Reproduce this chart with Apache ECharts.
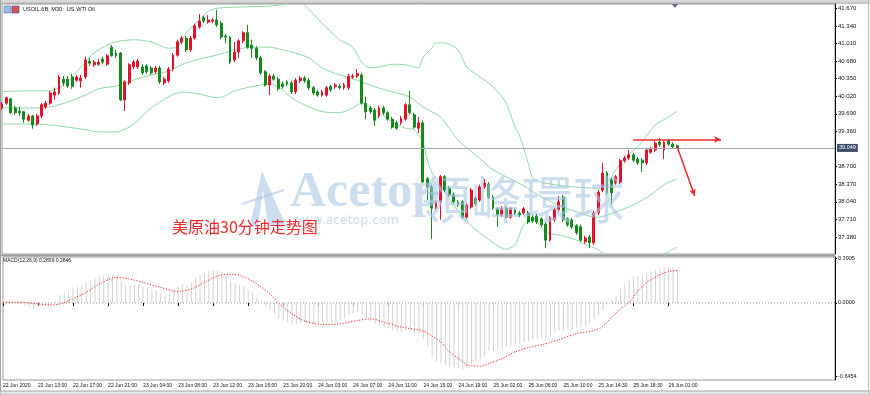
<!DOCTYPE html>
<html><head><meta charset="utf-8">
<script src="https://cdn.jsdelivr.net/npm/echarts@6/dist/echarts.min.js"></script>
<style>html,body{margin:0;padding:0;background:#fff}#c{width:870px;height:395px}</style>
</head><body><div id="c"></div>
<script>
// ---- data ----
const tickLabels = ['22 Jun 2020','22 Jun 13:00','22 Jun 17:00','22 Jun 21:00','23 Jun 04:00','23 Jun 08:00','23 Jun 12:00','23 Jun 16:00','23 Jun 20:00','24 Jun 03:00','24 Jun 07:00','24 Jun 11:00','24 Jun 15:00','24 Jun 19:00','25 Jun 02:00','25 Jun 06:00','25 Jun 10:00','25 Jun 14:30','25 Jun 18:30','26 Jun 01:00'];
const slotCount = 191; // bars incl. empty right shift area
const priceTicks = [41.670,41.340,41.010,40.680,40.350,40.020,39.690,39.360,38.700,38.370,38.040,37.710,37.380];
const macdTicks = [0.3905, 0, -0.6454];
const lastPrice = 39.049;
const macdMain = 0.2859, macdSig = 0.2846;
// [open, close, low, high]
const ohlc = [
[39.80,39.87,39.76,39.91],[39.89,39.99,39.86,40.01],[39.97,39.71,39.69,39.99],[39.80,39.71,39.67,39.84],[39.74,39.71,39.65,39.82],
[39.73,39.59,39.52,39.74],[39.57,39.65,39.54,39.69],[39.65,39.48,39.41,39.67],[39.50,39.65,39.46,39.69],[39.65,39.86,39.61,39.89],
[39.82,39.89,39.78,39.93],[39.89,40.08,39.86,40.12],[40.04,40.10,39.95,40.18],[40.08,40.38,40.04,40.42],[40.34,40.27,40.21,40.40],
[40.34,40.21,40.18,40.40],[40.38,40.20,40.16,40.44],[40.32,40.38,40.29,40.42],[40.31,40.36,40.18,40.42],[40.38,40.70,40.34,40.76],
[40.68,40.64,40.59,40.74],[40.61,40.66,40.57,40.70],[40.62,40.66,40.59,40.72],[40.72,40.66,40.62,40.76],[40.62,40.78,40.59,40.81],
[40.94,40.78,40.76,40.98],[40.83,40.78,40.74,40.89],[40.83,39.95,39.93,40.85],[39.95,40.29,39.74,40.32],[40.27,40.61,40.23,40.64],
[40.57,40.66,40.53,40.70],[40.57,40.68,40.53,40.72],[40.57,40.46,40.42,40.62],[40.59,40.48,40.44,40.62],[40.55,40.46,40.42,40.59],
[40.48,40.55,40.44,40.59],[40.55,40.29,40.25,40.59],[40.27,40.34,40.23,40.38],[40.31,40.53,40.27,40.57],[40.53,40.79,40.49,40.83],
[40.79,41.04,40.76,41.08],[41.04,41.11,41.00,41.15],[41.11,40.89,40.85,41.15],[40.89,41.11,40.85,41.15],[41.11,41.34,41.08,41.38],
[41.32,41.43,41.28,41.56],[41.49,41.43,41.39,41.53],[41.41,41.45,41.38,41.54],[41.43,41.45,41.39,41.49],[41.45,41.36,41.32,41.64],
[41.39,41.13,41.09,41.43],[41.15,41.13,41.02,41.19],[41.13,40.66,40.62,41.15],[40.70,40.85,40.66,41.04],[40.85,41.06,40.74,41.09],
[41.06,41.21,41.02,41.24],[41.21,40.94,40.91,41.36],[40.98,40.92,40.74,41.08],[40.92,40.74,40.70,40.96],[40.74,40.46,40.42,40.78],
[40.48,40.23,40.20,40.51],[40.23,40.40,40.04,40.44],[40.40,40.34,40.31,40.44],[40.34,40.16,40.12,40.38],[40.25,40.20,40.16,40.29],
[40.29,40.25,40.21,40.32],[40.27,40.10,40.06,40.31],[40.10,40.32,40.06,40.36],[40.31,40.36,40.27,40.40],[40.36,40.31,40.27,40.40],
[40.32,40.18,40.14,40.36],[40.18,40.08,40.04,40.21],[40.10,40.04,40.01,40.14],[40.04,40.10,40.01,40.14],[40.04,40.18,40.01,40.21],
[40.20,40.14,40.10,40.23],[40.20,40.23,40.16,40.27],[40.21,40.18,40.14,40.25],[40.18,40.23,40.14,40.27],[40.18,40.40,40.14,40.44],
[40.38,40.40,40.34,40.44],[40.40,40.44,40.36,40.53],[40.42,39.89,39.86,40.46],[39.89,39.73,39.59,40.01],[39.80,39.73,39.69,39.84],
[39.76,39.57,39.46,39.80],[39.65,39.80,39.61,39.84],[39.80,39.71,39.67,39.84],[39.71,39.59,39.56,39.74],[39.59,39.44,39.41,39.63],
[39.52,39.42,39.39,39.56],[39.52,39.61,39.48,39.65],[39.59,39.86,39.56,39.89],[39.86,39.71,39.67,40.12],[39.67,39.44,39.41,39.71],
[39.42,39.52,39.33,39.63],[39.52,38.41,38.39,39.56],[38.47,38.32,38.07,38.51],[38.32,37.92,37.34,38.36],[37.92,38.04,37.89,38.07],
[38.04,38.51,37.70,38.54],[38.51,38.26,38.22,38.54],[38.30,38.17,38.13,38.34],[38.17,38.04,38.00,38.21],[38.04,37.98,37.94,38.07],
[38.04,37.75,37.72,38.07],[37.75,37.98,37.72,38.02],[37.94,38.26,37.91,38.30],[38.11,38.00,37.96,38.15],[38.07,38.32,38.04,38.36],
[38.32,38.39,38.28,38.47],[38.37,38.13,38.09,38.41],[38.13,37.92,37.89,38.17],[37.91,37.79,37.57,37.94],[37.79,37.92,37.75,37.96],
[37.92,37.75,37.72,37.96],[37.75,37.91,37.72,37.94],[37.89,37.83,37.79,37.92],[37.83,37.79,37.75,37.87],[37.83,37.91,37.79,37.94],
[37.83,37.66,37.62,37.87],[37.75,37.68,37.64,37.79],[37.77,37.66,37.62,37.81],[37.72,37.61,37.57,37.75],[37.62,37.32,37.17,37.66],
[37.32,37.74,37.29,37.77],[37.70,37.89,37.66,37.92],[37.89,38.04,37.85,38.15],[38.13,37.70,37.66,38.17],[37.72,37.61,37.57,37.75],
[37.70,37.57,37.53,37.74],[37.59,37.46,37.42,37.62],[37.57,37.32,37.29,37.61],[37.29,37.36,37.25,37.40],[37.38,37.27,37.17,37.42],
[37.27,37.83,37.23,37.87],[37.83,38.22,37.79,38.26],[38.26,38.58,38.22,38.77],[38.58,38.21,38.17,38.62],[38.45,38.21,37.98,38.49],
[38.39,38.51,38.36,38.54],[38.41,38.81,38.37,38.84],[38.81,38.86,38.77,38.90],[38.86,38.92,38.82,39.01],[38.92,38.82,38.79,38.96],
[38.84,38.77,38.73,38.88],[38.82,38.77,38.60,38.86],[38.77,39.01,38.73,39.05],[38.97,39.03,38.94,39.07],[39.01,39.14,38.97,39.18],
[39.16,39.11,39.07,39.24],[39.01,39.16,38.84,39.18],[39.18,39.12,39.09,39.22],[39.12,39.07,39.05,39.16],[39.09,39.049,39.03,39.11]
];
// Bollinger bands: [barIndex, price]
const bbUpper = [[0,40.11],[7,40.12],[11,40.12],[13,40.18],[15,40.29],[18,40.57],[21,40.83],[24,40.98],[26,41.04],[30,41.08],[34,41.04],[38,40.92],[40,40.95],[42,41.21],[45,41.45],[47,41.61],[49,41.67],[53,41.69],[61,41.71],[64,41.74],[66,41.79],[68,41.77],[69,41.73],[73,41.39],[77,41.08],[80,40.94],[82,40.66],[84,40.55],[86,40.57],[89,40.62],[92,40.61],[95,40.55],[96,40.74],[98,40.92],[99,41.02],[101,41.02],[104,40.89],[106,40.57],[109,40.38],[112,40.20],[115,39.89],[117,39.44],[118,39.29],[120,38.77],[121,38.49],[123,38.41],[126,38.36],[130,38.32],[134,38.30],[136,38.28],[138,38.39],[140,38.64],[142,38.86],[145,39.07],[147,39.27],[149,39.48],[152,39.63],[154,39.74]];
const bbMiddle = [[0,39.80],[7,39.80],[11,39.82],[15,39.91],[19,40.04],[22,40.16],[26,40.21],[30,40.32],[34,40.42],[38,40.49],[41,40.61],[45,40.72],[49,40.79],[53,40.89],[57,40.94],[61,40.94],[64,40.89],[66,40.85],[70,40.74],[73,40.55],[77,40.42],[81,40.32],[85,40.20],[89,40.10],[93,40.01],[96,39.82],[100,39.63],[104,39.20],[108,38.92],[112,38.64],[116,38.47],[119,38.34],[123,38.13],[127,37.98],[131,37.85],[134,37.77],[136,37.75],[140,37.85],[144,37.98],[148,38.17],[151,38.36],[154,38.47]];
const bbLower = [[0,39.50],[7,39.50],[11,39.48],[15,39.44],[19,39.39],[22,39.35],[26,39.35],[29,39.44],[31,39.57],[34,39.80],[38,40.01],[41,40.10],[45,40.06],[49,39.99],[51,40.03],[53,40.12],[57,40.20],[61,40.25],[64,40.14],[66,39.99],[70,39.82],[73,39.73],[77,39.71],[80,39.80],[82,39.89],[85,39.76],[89,39.54],[92,39.42],[94,39.39],[96,39.16],[97,38.82],[98,38.60],[100,38.36],[103,37.98],[106,37.66],[109,37.46],[112,37.27],[115,37.15],[117,37.23],[119,37.61],[121,37.74],[124,37.47],[128,37.40],[131,37.32],[134,37.21],[136,37.14],[138,37.02],[142,36.91],[146,36.85],[149,36.98],[152,37.10],[154,37.19]];
const macdHist = [0.02,0.015,0.006,0,-0.01,-0.023,-0.038,-0.052,-0.043,-0.023,
-0.01,0.006,0.02,0.072,0.10,0.107,0.13,0.142,0.15,0.18,
0.194,0.217,0.229,0.237,0.243,0.246,0.237,0.194,0.15,0.15,
0.159,0.159,0.142,0.136,0.122,0.113,0.084,0.064,0.078,0.122,
0.15,0.165,0.159,0.18,0.217,0.246,0.26,0.28,0.286,0.286,
0.266,0.237,0.188,0.165,0.15,0.15,0.113,0.093,0.049,0.02,
-0.038,-0.061,-0.095,-0.139,-0.153,-0.168,-0.188,-0.182,-0.177,-0.177,
-0.182,-0.188,-0.182,-0.177,-0.177,-0.168,-0.168,-0.153,-0.139,-0.11,
-0.095,-0.081,-0.11,-0.139,-0.159,-0.182,-0.197,-0.211,-0.226,-0.24,
-0.255,-0.255,-0.24,-0.24,-0.263,-0.269,-0.312,-0.385,-0.472,-0.515,
-0.53,-0.544,-0.558,-0.564,-0.573,-0.582,-0.573,-0.53,-0.5,-0.486,
-0.466,-0.42,-0.42,-0.414,-0.408,-0.385,-0.37,-0.362,-0.356,-0.341,
-0.333,-0.321,-0.312,-0.304,-0.312,-0.284,-0.255,-0.24,-0.234,-0.226,
-0.226,-0.217,-0.211,-0.197,-0.182,-0.139,-0.11,-0.061,-0.009,0.026,
0.064,0.122,0.165,0.208,0.229,0.237,0.246,0.258,0.275,0.286,
0.304,0.31,0.31,0.304,0.2859];
const macdSignal = [[0,0.006],[4,0.006],[8,-0.009],[11,-0.017],[13,-0.009],[15,0.02],[19,0.093],[22,0.165],[26,0.223],[29,0.208],[32,0.179],[36,0.136],[40,0.101],[43,0.122],[46,0.179],[49,0.237],[52,0.252],[55,0.229],[58,0.165],[61,0.078],[63,-0.003],[66,-0.095],[69,-0.159],[73,-0.188],[77,-0.182],[81,-0.153],[84,-0.139],[87,-0.168],[91,-0.211],[96,-0.246],[98,-0.292],[100,-0.341],[102,-0.428],[105,-0.515],[106,-0.544],[109,-0.553],[111,-0.53],[114,-0.486],[117,-0.428],[120,-0.391],[124,-0.356],[127,-0.321],[131,-0.269],[135,-0.24],[137,-0.205],[139,-0.124],[141,-0.052],[143,0.006],[145,0.107],[147,0.179],[150,0.246],[152,0.275],[154,0.2846]];
const macdZero = [[0, 0], [190, 0]];
// annotation (drawn by hand on the original): resistance arrow and down arrow
const resistLine = {from:[144,39.21], to:[164,39.21]};
const downArrow = {from:[154,39.07], to:[158,38.15]};

// ---- chart ----
const categories = Array.from({length: slotCount}, (_, i) => String(i));
const chart = echarts.init(document.getElementById('c'), null, {renderer: 'canvas'});
const FONT = 'Liberation Sans';
const showTick = (i) => i % 8 === 0 && i / 8 < tickLabels.length;
const bandStyle = {color: '#8ed9a6', width: 1};
const arrowStyle = {color: '#f02a2a', width: 1.5, type: 'solid'};
const WM = 'rgba(168,198,228,0.6)';

chart.setOption({
  animation: false,
  backgroundColor: '#ffffff',
  grid: [
    {left: 2, right: 35, top: 4, height: 250, show: true, borderColor: '#9a9a9a', borderWidth: 1, backgroundColor: 'transparent'},
    {left: 2, right: 35, top: 257, height: 123, show: true, borderColor: '#9a9a9a', borderWidth: 1, backgroundColor: 'transparent'}
  ],
  xAxis: [
    {type: 'category', gridIndex: 0, data: categories, boundaryGap: false,
     axisLine: {show: false}, axisTick: {show: false}, axisLabel: {show: false}, splitLine: {show: false}},
    {type: 'category', gridIndex: 1, data: categories, boundaryGap: false,
     axisLine: {show: false},
     axisTick: {show: true, interval: showTick, length: 3, lineStyle: {color: '#000'}},
     axisLabel: {show: true, interval: showTick, formatter: (v, i) => tickLabels[i / 8] || '',
       align: 'left', fontSize: 5, fontFamily: FONT, color: '#111', margin: 3},
     splitLine: {show: false}}
  ],
  yAxis: [
    {type: 'value', gridIndex: 0, position: 'right', min: 37.06, max: 41.75, scale: true,
     axisLine: {show: true, lineStyle: {color: '#000'}},
     axisTick: {show: true, length: 2, customValues: priceTicks, lineStyle: {color: '#000'}},
     axisLabel: {show: true, customValues: priceTicks, formatter: v => v.toFixed(3), fontSize: 6, fontFamily: FONT, color: '#111', margin: 3},
     splitLine: {show: false}},
    {type: 'value', gridIndex: 1, position: 'right', min: -0.674, max: 0.402,
     axisLine: {show: true, lineStyle: {color: '#000'}},
     axisTick: {show: true, length: 2, customValues: macdTicks, lineStyle: {color: '#000'}},
     axisLabel: {show: true, customValues: macdTicks, formatter: v => v === 0 ? '0.0000' : v.toFixed(4), fontSize: 5.5, fontFamily: FONT, color: '#111', margin: 3},
     splitLine: {show: false}}
  ],
  series: [
    {type: 'line', name: 'BB upper', xAxisIndex: 0, yAxisIndex: 0, data: bbUpper, showSymbol: false, smooth: 0.25, lineStyle: bandStyle, silent: true, clip: true, z: 1},
    {type: 'line', name: 'BB middle', xAxisIndex: 0, yAxisIndex: 0, data: bbMiddle, showSymbol: false, smooth: 0.25, lineStyle: bandStyle, silent: true, clip: true, z: 1},
    {type: 'line', name: 'BB lower', xAxisIndex: 0, yAxisIndex: 0, data: bbLower, showSymbol: false, smooth: 0.25, lineStyle: bandStyle, silent: true, clip: true, z: 1},
    {type: 'candlestick', name: 'USOIL', xAxisIndex: 0, yAxisIndex: 0, data: ohlc, barWidth: 2.4, clip: true, z: 3,
     itemStyle: {color: '#e5102a', color0: '#138a1b', borderColor: '#e5102a', borderColor0: '#138a1b', borderWidth: 1},
     markLine: {silent: true, animation: false, symbol: 'none',
       data: [
         {yAxis: lastPrice, lineStyle: {color: '#9ea6ae', width: 1, type: 'solid'},
          label: {show: true, position: 'end', formatter: lastPrice.toFixed(3), color: '#fff', backgroundColor: '#3d4f6c',
                  fontSize: 5.5, fontFamily: FONT, padding: [1, 2], distance: 2}},
         [{coord: resistLine.from, symbol: 'none', lineStyle: arrowStyle, label: {show: false}},
          {coord: resistLine.to, symbol: 'arrow', symbolSize: [5, 7]}],
         [{coord: downArrow.from, symbol: 'none', lineStyle: arrowStyle, label: {show: false}},
          {coord: downArrow.to, symbol: 'arrow', symbolSize: [5, 7]}]
       ]
     }},
    {type: 'line', name: 'zero', xAxisIndex: 1, yAxisIndex: 1, data: macdZero, showSymbol: false,
     lineStyle: {color: '#909090', width: 1, type: [1, 2]}, silent: true, z: 1},
    {type: 'bar', name: 'MACD', xAxisIndex: 1, yAxisIndex: 1, data: macdHist, barWidth: 1, itemStyle: {color: '#d2d2d2'}, silent: true, z: 2},
    {type: 'line', name: 'Signal', xAxisIndex: 1, yAxisIndex: 1, data: macdSignal, showSymbol: false, smooth: 0.3,
     lineStyle: {color: '#f22', width: 1, type: [1.2, 1.6]}, silent: true, z: 4}
  ],
  graphic: [
    // window frame
    {type: 'line', shape: {x1: 0, y1: 1, x2: 870, y2: 1}, style: {stroke: '#b0b0b0', lineWidth: 1}, silent: true},
    {type: 'line', shape: {x1: 0, y1: 3, x2: 870, y2: 3}, style: {stroke: '#8c8c8c', lineWidth: 1}, silent: true},
    {type: 'line', shape: {x1: 0.5, y1: 0, x2: 0.5, y2: 395}, style: {stroke: '#a0a0a0', lineWidth: 1}, silent: true},
    {type: 'line', shape: {x1: 0, y1: 255.5, x2: 835, y2: 255.5}, style: {stroke: '#9a9a9a', lineWidth: 2}, silent: true},
    {type: 'line', shape: {x1: 868.5, y1: 0, x2: 868.5, y2: 395}, style: {stroke: '#b8b8b8', lineWidth: 1}, silent: true},
    {type: 'rect', shape: {x: 0, y: 391, width: 870, height: 4}, style: {fill: '#e6e6e6', stroke: '#a8a8a8', lineWidth: 1}, silent: true},
    {type: 'polygon', shape: {points: [[672, 4], [678, 4], [675, 8]]}, style: {fill: '#5a6a80'}, silent: true},
    // symbol icon + header
    {type: 'rect', shape: {x: 4, y: 6, width: 7, height: 7}, style: {fill: '#9fb8e0', stroke: '#5470a8', lineWidth: 0.6}, silent: true},
    {type: 'rect', shape: {x: 12, y: 6, width: 7, height: 7}, style: {fill: '#e05050', stroke: '#3050a0', lineWidth: 0.6}, silent: true},
    {type: 'text', left: 23, top: 6.5, silent: true, style: {text: 'USOIL.6B, M30:  US WTI Oil', fontSize: 5.6, fontFamily: FONT, fill: '#111'}},
    {type: 'text', left: 3, top: 258.5, silent: true, style: {text: 'MACD(12,26,9) ' + macdMain.toFixed(4) + ' ' + macdSig.toFixed(4), fontSize: 5, fontFamily: FONT, fill: '#111'}},
    // watermark
    {type: 'polygon', shape: {points: [[262, 171], [250, 226], [258, 226], [263, 190], [268, 226], [286, 226]]}, style: {fill: WM}, silent: true, z: 100},
    {type: 'line', shape: {x1: 242, y1: 204, x2: 284, y2: 190}, style: {stroke: WM, lineWidth: 2}, silent: true, z: 100},
    {type: 'text', left: 290, top: 168, silent: true, z: 100, style: {text: 'Acetop', fontSize: 50, fontWeight: 'bold', fontFamily: 'Liberation Serif', fill: WM}},
    {type: 'text', left: 420, top: 174, silent: true, z: 100, style: {text: '領峰環球', fontSize: 51, fontFamily: 'Noto Sans CJK TC', fill: WM}},
    {type: 'text', left: 292, top: 214, silent: true, z: 100, style: {text: 'www.acetop.com', fontSize: 12.5, fontFamily: 'DejaVu Sans', fill: WM}},
    // red caption
    {type: 'text', left: 172, top: 219, silent: true, z: 110, style: {text: '美原油30分钟走势图', fontSize: 16, fontFamily: 'Noto Sans CJK SC', fill: '#f02a2a'}}
  ]
});
</script></body></html>
